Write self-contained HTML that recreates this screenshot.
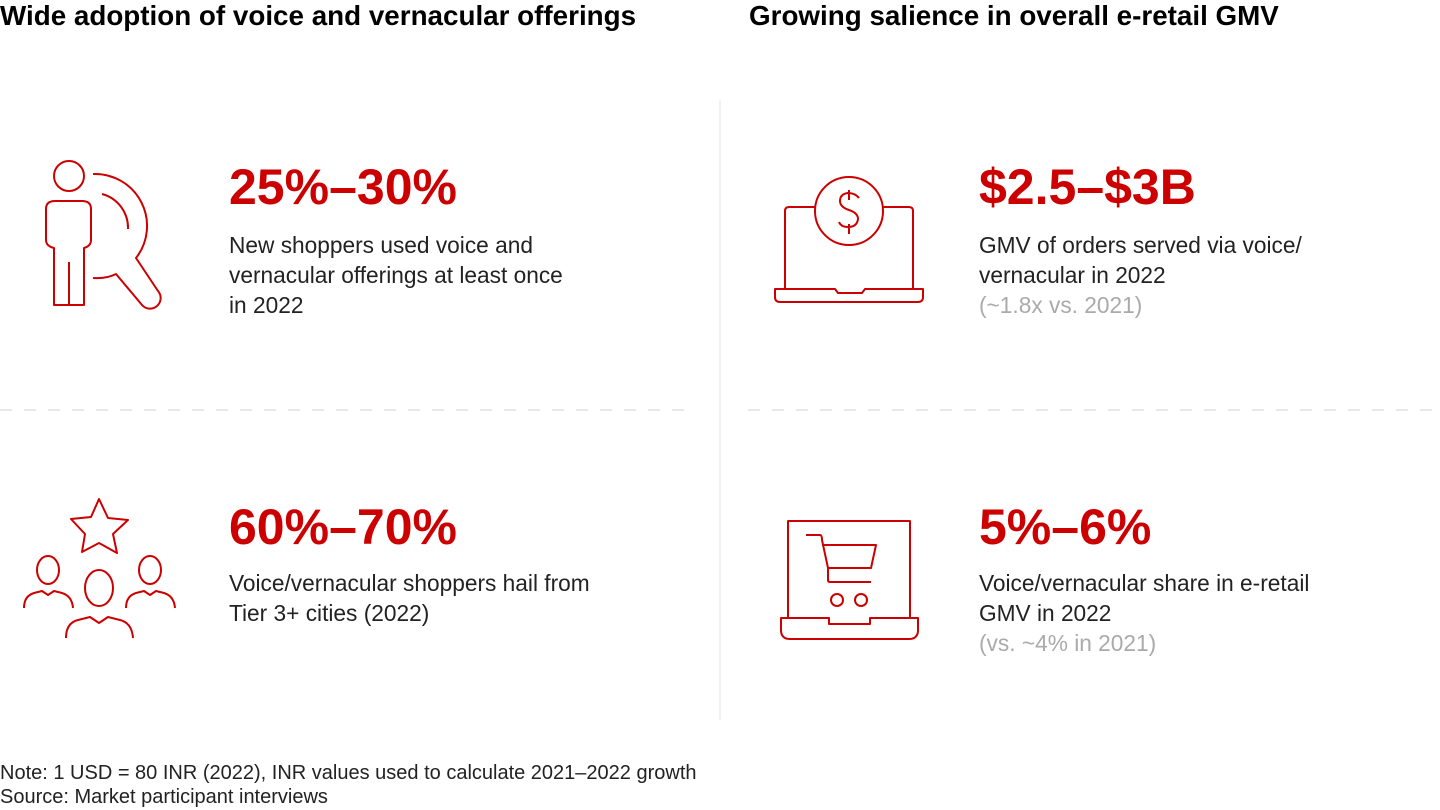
<!DOCTYPE html>
<html><head><meta charset="utf-8"><style>
body{margin:0;width:1440px;height:810px;background:#fff;font-family:"Liberation Sans",Arial,sans-serif;position:relative;overflow:hidden}
.a{position:absolute;white-space:nowrap}
.h{font-weight:bold;font-size:27.8px;color:#000;line-height:32px}
.n{font-weight:bold;font-size:50px;color:#cc0000;line-height:52px}
.t{font-size:22.7px;color:#222;line-height:30px}
.g{color:#aaa}
.f{font-size:20px;color:#222;line-height:24px}
svg{position:absolute;left:0;top:0}
</style></head><body>
<div class="a h" style="left:0;top:0px">Wide adoption of voice and vernacular offerings</div>
<div class="a h" style="left:749px;top:0px">Growing salience in overall e-retail GMV</div>

<svg width="1440" height="810">
<line x1="720" y1="100" x2="720" y2="720" stroke="#eee" stroke-width="1.5"/>
<line x1="0" y1="410" x2="688" y2="410" stroke="#e8e8e8" stroke-width="2" stroke-dasharray="12,12"/>
<line x1="748" y1="410" x2="1440" y2="410" stroke="#e8e8e8" stroke-width="2" stroke-dasharray="12,12"/>
<g fill="none" stroke="#cc0000" stroke-width="2" stroke-linejoin="round">
<g>
<circle cx="69" cy="176" r="15"/>
<path d="M54,305 V248 Q46,246 46,240 V209 Q46,201 55,201 H82 Q91,201 91,209 V240 Q91,246 84,248 V305 Z"/>
<path d="M69,262 V305"/>
<path d="M93,174 A52,52 0 0 1 136,258 L158,291 A10,10 0 0 1 142,305 L116,274 Q106,279 93,278"/>
<path d="M102,194 A35,35 0 0 1 128,229"/>
</g>
<g>
<path d="M99,499 L108,518 L128,520 L113,534 L117,553 L99,543 L82,552 L85,534 L71,519 L91,517 Z"/>
<ellipse cx="48" cy="570" rx="11" ry="14"/>
<path d="M24,608 Q24,596 34,593 L42,591 L48,595 L54,591 L62,593 Q72,596 73,608"/>
<ellipse cx="99" cy="588" rx="14" ry="18"/>
<path d="M66,638 Q66,623 78,620 L90,617 L99,623 L108,617 L120,620 Q132,623 133,638"/>
<ellipse cx="150" cy="570" rx="11" ry="14"/>
<path d="M126,608 Q126,596 136,593 L144,591 L150,595 L156,591 L164,593 Q174,596 175,608"/>
</g>
<g>
<path d="M815,207 H789 Q785,207 785,211 V289 M883,207 H909 Q913,207 913,211 V289"/>
<circle cx="849" cy="211" r="34"/>
<path d="M859,198 Q855,193 848,193 Q840,194 840,201 Q840,207 849,210 Q858,213 858,219 Q857,227 848,227 Q841,227 839,222 M849,190 V200 M849,224 V234"/>
<path d="M775,289 H835 L838,293 H862 L865,289 H923 V297 Q923,302 918,302 H780 Q775,302 775,297 Z"/>
</g>
<g>
<path d="M788,618 V521 H910 V618"/>
<path d="M781,618 H829 V624 H870 V618 H918 V630 Q918,639 909,639 H790 Q781,639 781,630 Z"/>
<path d="M806,535 H820 Q822,535 822,540 L828,568 H871 L876,545 H822"/>
<path d="M828,568 V580 Q828,582 830,582 H871"/>
<circle cx="837" cy="600" r="6"/>
<circle cx="861" cy="600" r="6"/>
</g>
</g>
</svg>

<div class="a n" style="left:229px;top:161px">25%–30%</div>
<div class="a t" style="left:229px;top:230px">New shoppers used voice and<br>vernacular offerings at least once<br>in 2022</div>

<div class="a n" style="left:229px;top:501px">60%–70%</div>
<div class="a t" style="left:229px;top:568px">Voice/vernacular shoppers hail from<br>Tier 3+ cities (2022)</div>

<div class="a n" style="left:979px;top:161px">$2.5–$3B</div>
<div class="a t" style="left:979px;top:230px">GMV of orders served via voice/<br>vernacular in 2022<br><span class="g">(~1.8x vs. 2021)</span></div>

<div class="a n" style="left:979px;top:501px">5%–6%</div>
<div class="a t" style="left:979px;top:568px">Voice/vernacular share in e-retail<br>GMV in 2022<br><span class="g">(vs. ~4% in 2021)</span></div>

<div class="a f" style="left:0;top:761px">Note: 1 USD = 80 INR (2022), INR values used to calculate 2021–2022 growth<br>Source: Market participant interviews</div>
</body></html>
